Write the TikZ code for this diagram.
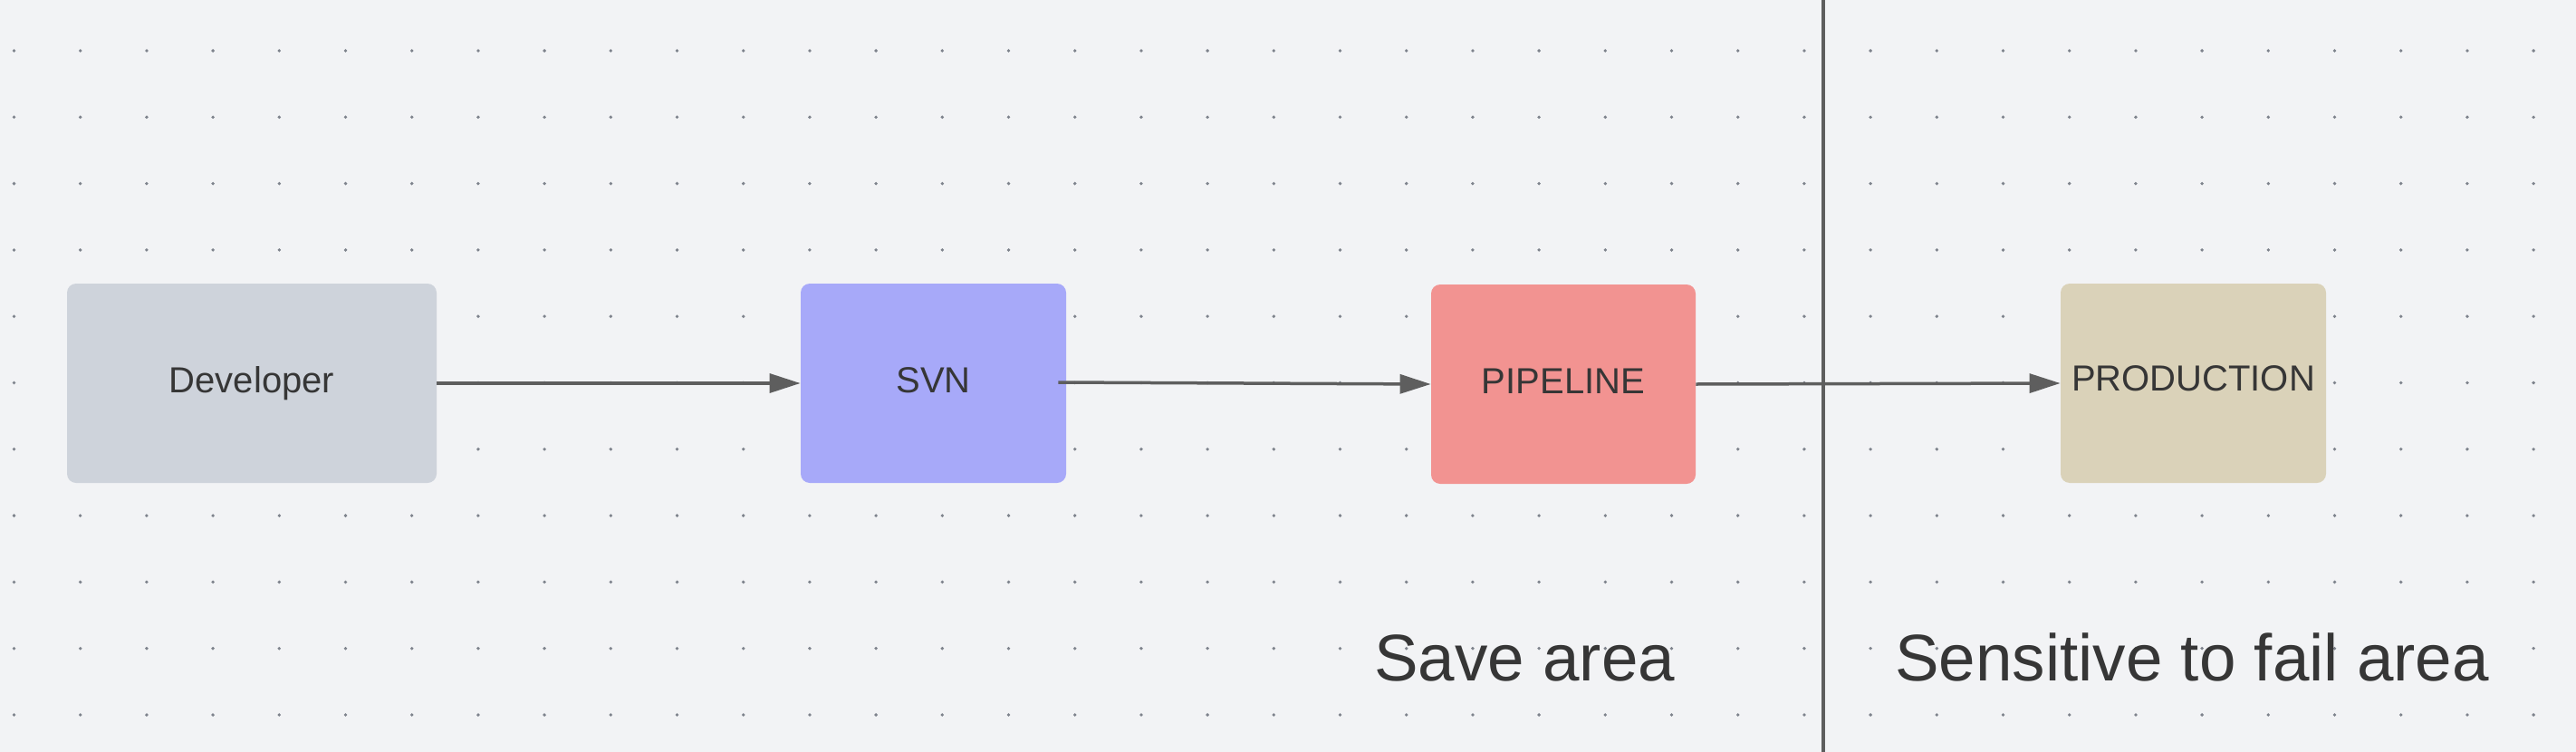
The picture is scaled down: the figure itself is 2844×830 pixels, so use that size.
\documentclass[tikz,border=0pt]{standalone}
\usepackage{fontspec}
\setmainfont{Liberation Sans}
\usetikzlibrary{arrows.meta}
\definecolor{bgc}{HTML}{F2F3F5}
\definecolor{dotc}{HTML}{7E838C}
\definecolor{devc}{HTML}{CED3DB}
\definecolor{svnc}{HTML}{A7A9F9}
\definecolor{pipc}{HTML}{F29391}
\definecolor{prodc}{HTML}{DAD2B9}
\definecolor{linec}{HTML}{5E5E5E}
\definecolor{txtc}{HTML}{363636}
\tikzset{
  box/.style={rounded corners=5pt, inner sep=0pt, minimum height=110pt,
    text=txtc, font=\fontsize{20pt}{24pt}\selectfont, text height=10.5pt, text depth=0pt},
  conn/.style={draw=linec, line width=1.75pt, -{Triangle[length=17pt,width=10.5pt]}},
  area/.style={text=txtc, font=\fontsize{36.4pt}{42pt}\selectfont, anchor=base west, inner sep=0pt}
}
\begin{document}
\begin{tikzpicture}[x=0.5pt,y=-0.5pt]
\fill[bgc] (0,0) rectangle (2844,830);
\useasboundingbox (0,0) rectangle (2844,830);
\foreach \i in {0,...,38}{
  \foreach \j in {0,...,10}{
    \fill[dotc] (15.5+\i*73.2, 56+\j*73.3) circle (1.9);
  }
}
\draw[linec, line width=1.65pt] (2013,0) -- (2013,830);
\node[box, fill=devc, minimum width=204pt] (dev) at (278,423) {Developer};
\node[box, fill=svnc, minimum width=146.5pt] (svn) at (1030.5,423) {SVN};
\node[box, fill=pipc, minimum width=146pt] (pip) at (1726,424) {PIPELINE};
\node[box, fill=prodc, minimum width=146.5pt, text height=8.5pt] (prod) at (2421.5,423) {PRODUCTION};
\draw[conn] (dev.east) -- (svn.west);
\draw[conn] ([xshift=-4.5pt,yshift=0.5pt]svn.east) -- (pip.west);
\draw[conn] (pip.east) -- (prod.west);
\node[area] (save) at (1517,751.7) {Save area};
\node[area] (sens) at (2092,751.7) {Sensitive to fail area};
\end{tikzpicture}
\end{document}
